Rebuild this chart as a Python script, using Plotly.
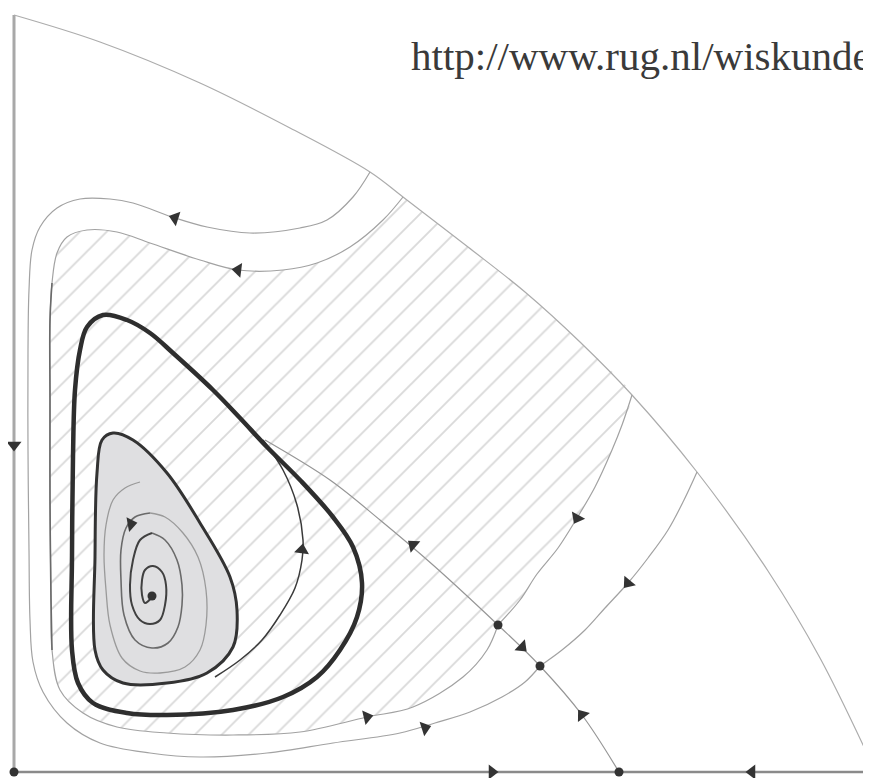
import plotly.graph_objects as go

# ---- geometry (pixel coordinates, y downwards) ----
arc_x = [14, 100, 200, 290, 370, 403, 468, 525, 580, 632, 697, 768, 820, 871]
arc_y = [15, 42, 83, 128, 172, 197, 247, 292, 342, 395, 472, 571, 658, 762]

orbit1_x = [370, 353, 327, 300, 250, 207, 175, 133, 110, 80, 57, 40, 32, 29, 28, 28, 29, 30, 33, 43, 67, 100, 150, 200, 267, 333, 400, 435, 470, 502, 525, 540]
orbit1_y = [172, 197, 220, 228, 233, 227, 218, 203, 199, 199, 208, 227, 250, 290, 350, 450, 550, 620, 662, 692, 723, 743, 753, 757, 753, 743, 733, 723, 712, 697, 682, 666]

orbit2_x = [403, 383, 350, 317, 283, 238, 200, 150, 117, 87, 67, 57, 52, 50, 50, 50, 51, 52, 60, 83, 117, 167, 233, 300, 367, 413, 463, 487, 498]
orbit2_y = [197, 220, 247, 263, 270, 270, 260, 243, 232, 230, 237, 253, 283, 320, 400, 500, 600, 650, 690, 713, 727, 733, 735, 732, 717, 707, 677, 650, 625]

left_dark_x = [52, 50, 50, 50, 51, 52]
left_dark_y = [283, 320, 400, 500, 600, 650]

manifold1_x = [498, 520, 537, 558, 577, 595, 612, 622, 632]
manifold1_y = [625, 600, 574, 548, 518, 487, 450, 425, 395]

manifold2_x = [697, 684, 668, 648, 628, 605, 585, 562, 540]
manifold2_y = [472, 500, 530, 558, 583, 608, 630, 650, 666]

diag_x = [265, 330, 380, 433, 498, 540, 582, 619]
diag_y = [440, 480, 520, 565, 625, 666, 715, 772]

unstable_x = [263, 283, 297, 303, 302, 295, 280, 262, 240, 215]
unstable_y = [440, 470, 505, 540, 560, 588, 615, 640, 660, 677]

cycle_x = [103, 127, 150, 173, 213, 240, 267, 300, 333, 353, 362, 357, 340, 317, 283, 233, 167, 127, 93, 78, 72, 72, 73, 75, 80, 87, 103]
cycle_y = [315, 320, 333, 353, 390, 418, 447, 480, 517, 547, 583, 617, 650, 677, 697, 710, 715, 713, 703, 683, 650, 557, 457, 390, 350, 327, 315]

inner_x = [113, 133, 167, 200, 230, 237, 233, 207, 167, 123, 103, 95, 95, 97, 102, 113]
inner_y = [433, 440, 473, 523, 577, 610, 647, 673, 683, 683, 670, 650, 557, 473, 440, 433]

spiral_out_x = [140, 125, 113, 106, 104, 106, 110, 122, 140, 160, 185, 200, 206, 206, 198, 183, 165, 150]
spiral_out_y = [482, 488, 500, 525, 555, 590, 625, 658, 671, 673, 667, 650, 625, 590, 557, 533, 517, 513]
spiral_mid_x = [150, 135, 126, 121, 121, 124, 135, 152, 168, 178, 182, 182, 177, 165, 152]
spiral_mid_y = [513, 517, 528, 550, 580, 615, 640, 648, 643, 627, 605, 585, 560, 540, 533]
spiral_in_x = [152, 140, 133, 130, 132, 140, 150, 160, 165, 166, 162, 153, 145, 142, 142, 145, 152]
spiral_in_y = [533, 540, 560, 585, 605, 620, 624, 620, 605, 585, 572, 566, 570, 580, 595, 603, 597]

dots_x = [14, 619, 498, 540, 152]
dots_y = [772, 772, 625, 666, 596]

arrows_x = [14, 492, 752, 175, 238, 131, 302, 413, 577, 628, 522, 582, 367, 425]
arrows_y = [445, 772, 772, 218, 270, 524, 550, 545, 518, 583, 647, 715, 717, 728]
arrows_angle = [180, 90, -90, -72, -83, 80, 8, -50, -152, -140, 134, -37, 77, 72]

url_text = "http://www.rug.nl/wiskunde"

# the page body has an 8px margin; the plot covers page pixels 8..871 x 8..778
PAGE_OFF = 8
W, H = 871, 778

fig = go.Figure()

def curve(x, y, color, width, shape="spline", **kw):
    fig.add_trace(go.Scatter(x=x, y=y, mode="lines", line=dict(color=color, width=width, shape=shape),
                             hoverinfo="skip", **kw))

# hatched region: orbit 2 -> manifold 1 -> arc back
hx = orbit2_x + manifold1_x[1:] + arc_x[8:4:-1]
hy = orbit2_y + manifold1_y[1:] + arc_y[8:4:-1]
hx = hx + [hx[0]]
hy = hy + [hy[0]]
fig.add_trace(go.Scatter(x=hx, y=hy, mode="lines", fill="toself",
                         line=dict(width=0, color="rgba(0,0,0,0)", shape="spline", smoothing=0.6),
                         fillcolor="rgba(255,255,255,0)",
                         fillpattern=dict(shape="/", size=19, solidity=0.1, fgcolor="#b4b4b4",
                                          bgcolor="rgba(255,255,255,0)"),
                         hoverinfo="skip"))

# axes
curve([14, 14], [15, 772], "#a8a8a8", 3, shape="linear")
curve([14, 871], [772, 772], "#8a8a8a", 2.5, shape="linear")

# thin flow lines
curve(arc_x, arc_y, "#acacac", 1.2)
curve(orbit1_x, orbit1_y, "#a2a2a2", 1.2)
curve(orbit2_x, orbit2_y, "#a2a2a2", 1.2)
curve(left_dark_x, left_dark_y, "#6a6a6a", 1.6)
curve(manifold1_x, manifold1_y, "#a2a2a2", 1.2)
curve(manifold2_x, manifold2_y, "#a2a2a2", 1.2)
curve(diag_x, diag_y, "#969696", 1.2)
curve(unstable_x, unstable_y, "#3a3a3a", 1.5)

# limit cycles
curve(cycle_x, cycle_y, "#2e2e2e", 4.5)
fig.add_trace(go.Scatter(x=inner_x, y=inner_y, mode="lines", fill="toself", fillcolor="#dfdfe1",
                         line=dict(color="#333333", width=3, shape="spline"), hoverinfo="skip"))

# spiral
curve(spiral_out_x, spiral_out_y, "#9a9a9a", 1.3)
curve(spiral_mid_x, spiral_mid_y, "#6a6a6a", 1.6)
curve(spiral_in_x, spiral_in_y, "#404040", 2)

# fixed points and arrows
fig.add_trace(go.Scatter(x=dots_x, y=dots_y, mode="markers", cliponaxis=False,
                         marker=dict(size=9, color="#333333"), hoverinfo="skip"))
fig.add_trace(go.Scatter(x=arrows_x, y=arrows_y, mode="markers", cliponaxis=False,
                         marker=dict(symbol="triangle-up", size=13, color="#333333", angle=arrows_angle,
                                     line=dict(width=0)), hoverinfo="skip"))

fig.add_annotation(x=409, y=56, text=url_text, showarrow=False, xanchor="left", yanchor="middle",
                   font=dict(family="Liberation Serif", size=41, color="#3a3a3a"))

fig.update_layout(width=W - PAGE_OFF, height=H - PAGE_OFF, margin=dict(l=0, r=0, t=0, b=0, pad=0),
                  paper_bgcolor="white", plot_bgcolor="white", showlegend=False,
                  xaxis=dict(range=[PAGE_OFF, W], visible=False, fixedrange=True),
                  yaxis=dict(range=[H, PAGE_OFF], visible=False, fixedrange=True))

fig.write_html("out.html")
